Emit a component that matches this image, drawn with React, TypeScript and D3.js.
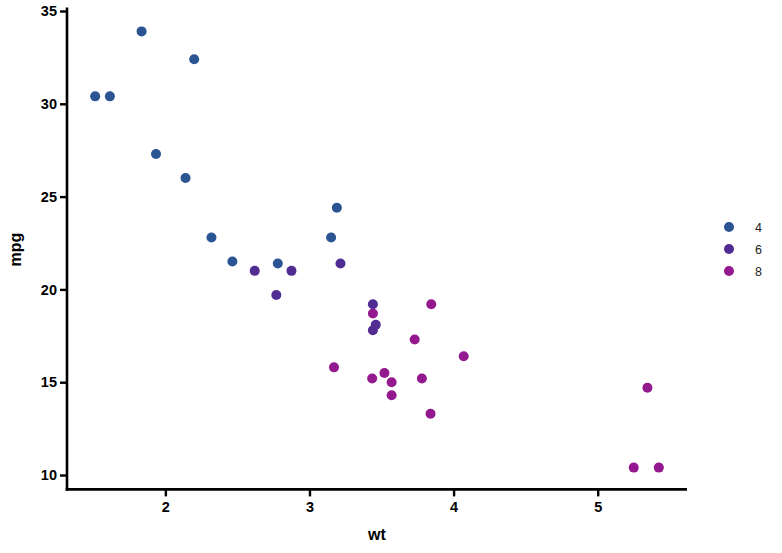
import { useEffect, useRef } from 'react';
import * as d3 from 'd3';

// mtcars: weight (1000 lbs), miles per gallon, cylinders
const wt = [2.62, 2.875, 2.32, 3.215, 3.44, 3.46, 3.57, 3.19, 3.15, 3.44, 3.44, 4.07, 3.73, 3.78, 5.25, 5.424, 5.345, 2.2, 1.615, 1.835, 2.465, 3.52, 3.435, 3.84, 3.845, 1.935, 2.14, 1.513, 3.17, 2.77, 3.57, 2.78];
const mpg = [21.0, 21.0, 22.8, 21.4, 18.7, 18.1, 14.3, 24.4, 22.8, 19.2, 17.8, 16.4, 17.3, 15.2, 10.4, 10.4, 14.7, 32.4, 30.4, 33.9, 21.5, 15.5, 15.2, 13.3, 19.2, 27.3, 26.0, 30.4, 15.8, 19.7, 15.0, 21.4];
const cyl = [6, 6, 4, 6, 8, 6, 8, 4, 4, 6, 6, 8, 8, 8, 8, 8, 8, 4, 4, 4, 4, 8, 8, 8, 8, 4, 4, 4, 8, 6, 8, 4];

const cylLevels = ['4', '6', '8'];
const cylColors = ['#2b5493', '#512c93', '#94198f'];
const xTicks = [2, 3, 4, 5];
const yTicks = [10, 15, 20, 25, 30, 35];

export default function App() {
    const svgRef = useRef<SVGSVGElement>(null);

    useEffect(() => {
        if (!svgRef.current) return;
        const svg = d3.select(svgRef.current);
        svg.selectAll('*').remove();

        const left = 67;
        const right = 687;
        const top = 9.6;
        const bottom = 489.4;

        // ggplot-style 5% expansion of the data range
        const [x0, x1] = d3.extent(wt) as [number, number];
        const [y0, y1] = d3.extent(mpg) as [number, number];
        const xPad = (x1 - x0) * 0.05;
        const yPad = (y1 - y0) * 0.05;

        const x = d3.scaleLinear().domain([x0 - xPad, x1 + xPad]).range([left, right]);
        const y = d3.scaleLinear().domain([y0 - yPad, y1 + yPad]).range([bottom, top]);
        const color = d3.scaleOrdinal<string, string>().domain(cylLevels).range(cylColors);

        const font = 'Liberation Sans, Arial, sans-serif';

        // points
        svg.append('g')
            .selectAll('circle')
            .data(wt.map((w, i) => ({ w, m: mpg[i], c: String(cyl[i]) })))
            .enter()
            .append('circle')
            .attr('cx', d => x(d.w))
            .attr('cy', d => y(d.m))
            .attr('r', 5)
            .attr('fill', d => color(d.c));

        // axes
        const xAxis = svg.append('g')
            .attr('transform', `translate(0,${bottom})`)
            .call(d3.axisBottom(x).tickValues(xTicks).tickSize(7).tickSizeOuter(0).tickPadding(5).tickFormat(d3.format('d')));
        const yAxis = svg.append('g')
            .attr('transform', `translate(${left},0)`)
            .call(d3.axisLeft(y).tickValues(yTicks).tickSize(7).tickSizeOuter(0).tickPadding(3).tickFormat(d3.format('d')));

        [xAxis, yAxis].forEach(g => {
            g.select('.domain').attr('stroke', '#000').attr('stroke-width', 2.6);
            g.selectAll('.tick line').attr('stroke', '#000').attr('stroke-width', 2.4);
            g.selectAll('.tick text')
                .attr('fill', '#000')
                .attr('font-family', font)
                .attr('font-weight', 'bold')
                .attr('font-size', 14.5);
        });
        // extend axis lines to meet at the corner
        xAxis.select('.domain').attr('d', `M${left - 1.3},0H${right}`);
        yAxis.select('.domain').attr('d', `M0,${bottom + 1.3}V${top - 2}`);

        // axis titles
        svg.append('text')
            .attr('x', (left + right) / 2)
            .attr('y', 540)
            .attr('text-anchor', 'middle')
            .attr('font-family', font)
            .attr('font-weight', 'bold')
            .attr('font-size', 16)
            .text('wt');
        svg.append('text')
            .attr('transform', `translate(20.5,${(top + bottom) / 2}) rotate(-90)`)
            .attr('text-anchor', 'middle')
            .attr('font-family', font)
            .attr('font-weight', 'bold')
            .attr('font-size', 16)
            .text('mpg');

        // legend
        const legend = svg.append('g').attr('transform', 'translate(729,227)');
        cylLevels.forEach((lvl, i) => {
            const row = legend.append('g').attr('transform', `translate(0,${i * 22})`);
            row.append('circle').attr('r', 5).attr('fill', color(lvl));
            row.append('text')
                .attr('x', 26)
                .attr('y', 4.5)
                .attr('font-family', font)
                .attr('font-size', 12.5)
                .attr('fill', '#222')
                .text(lvl);
        });
    }, []);

    return (
        <svg
            ref={svgRef}
            width={782}
            height={553}
            style={{ position: 'absolute', left: 0, top: 0, background: '#fff' }}
        />
    );
}
